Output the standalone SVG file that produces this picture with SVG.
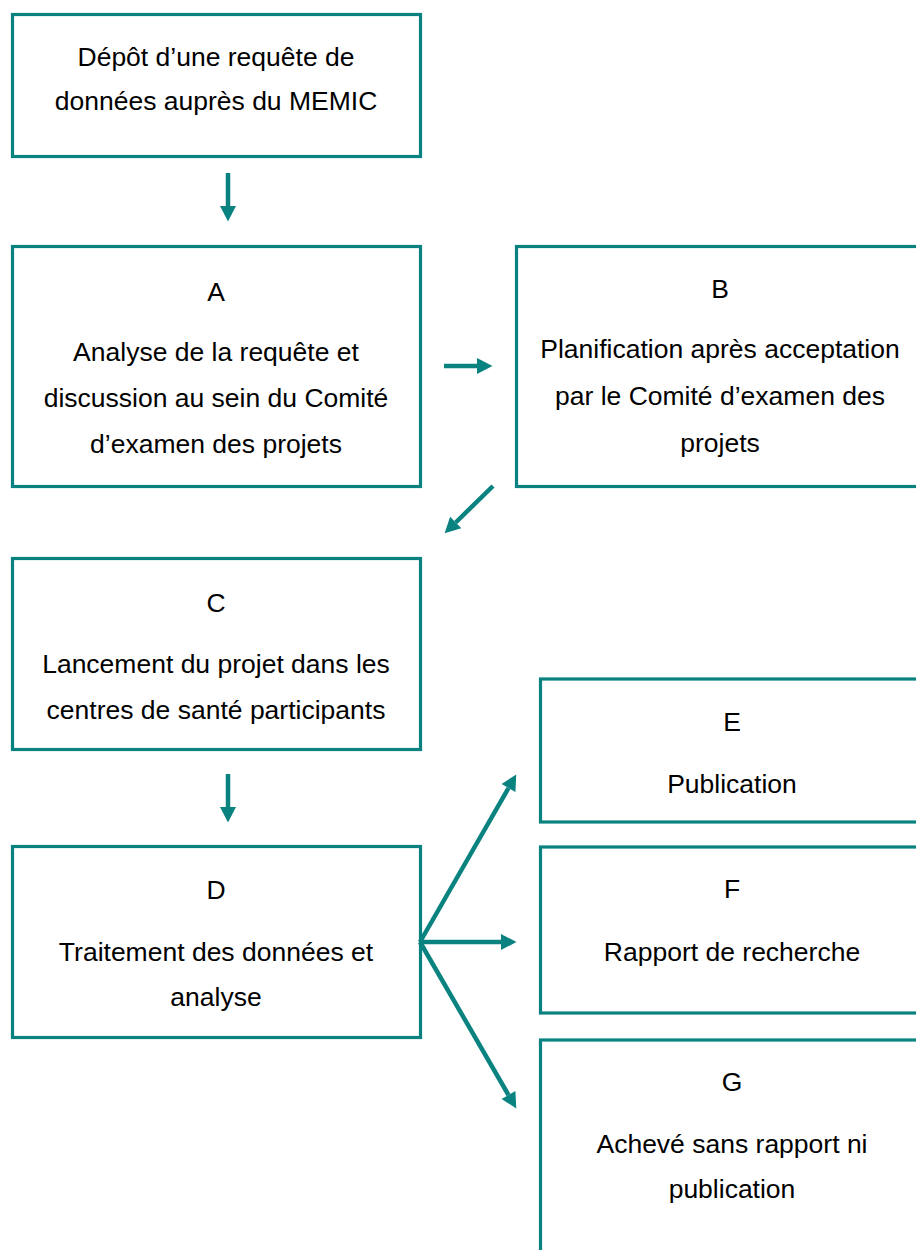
<svg xmlns="http://www.w3.org/2000/svg" width="916" height="1250" viewBox="0 0 916 1250">
<style>
.box{fill:#fff;stroke:#0a8380;stroke-width:3.2}
.t{font-family:"Liberation Sans",Arial,sans-serif;font-size:26.5px;fill:#000;text-anchor:middle}
.c{stroke:#0a8380;stroke-width:4.5;fill:none}
</style>
<defs>
<marker id="ah" markerUnits="userSpaceOnUse" markerWidth="20" markerHeight="20" viewBox="0 -10 16 20" refX="0" refY="0" orient="auto">
<path d="M0,-8 L15.5,0 L0,8 z" fill="#0a8380"/>
</marker>
</defs>
<rect width="916" height="1250" fill="#fff"/>
<g id="n0">
<rect class="box" x="12.5" y="14.5" width="408" height="142"/>
<text class="t" x="216" y="66">Dépôt d’une requête de</text>
<text class="t" x="216" y="110">données auprès du MEMIC</text>
</g>
<g id="nA">
<rect class="box" x="12.5" y="246.5" width="408" height="240"/>
<text class="t" x="216" y="301">A</text>
<text class="t" x="216" y="361">Analyse de la requête et</text>
<text class="t" x="216" y="407">discussion au sein du Comité</text>
<text class="t" x="216" y="453">d’examen des projets</text>
</g>
<g id="nB">
<rect class="box" x="516.5" y="246.5" width="408" height="240"/>
<text class="t" x="720" y="298">B</text>
<text class="t" x="720" y="358">Planification après acceptation</text>
<text class="t" x="720" y="405">par le Comité d’examen des</text>
<text class="t" x="720" y="452">projets</text>
</g>
<g id="nC">
<rect class="box" x="12.5" y="558.5" width="408" height="191"/>
<text class="t" x="216" y="612">C</text>
<text class="t" x="216" y="673">Lancement du projet dans les</text>
<text class="t" x="216" y="719">centres de santé participants</text>
</g>
<g id="nD">
<rect class="box" x="12.5" y="846.5" width="408" height="191"/>
<text class="t" x="216" y="899">D</text>
<text class="t" x="216" y="961">Traitement des données et</text>
<text class="t" x="216" y="1006">analyse</text>
</g>
<g id="nE">
<rect class="box" x="540.5" y="679" width="384" height="143"/>
<text class="t" x="732" y="731">E</text>
<text class="t" x="732" y="793">Publication</text>
</g>
<g id="nF">
<rect class="box" x="540.5" y="847" width="384" height="166"/>
<text class="t" x="732" y="898">F</text>
<text class="t" x="732" y="961">Rapport de recherche</text>
</g>
<g id="nG">
<rect class="box" x="540.5" y="1040" width="384" height="240"/>
<text class="t" x="732" y="1091">G</text>
<text class="t" x="732" y="1153">Achevé sans rapport ni</text>
<text class="t" x="732" y="1198">publication</text>
</g>
<g id="connectors">
<line class="c" x1="228" y1="173" x2="228" y2="206" marker-end="url(#ah)"/>
<line class="c" x1="444" y1="366" x2="477" y2="366" marker-end="url(#ah)"/>
<line class="c" x1="493" y1="486" x2="455.7" y2="522.5" marker-end="url(#ah)"/>
<line class="c" x1="228" y1="774" x2="228" y2="807" marker-end="url(#ah)"/>
<line class="c" x1="420" y1="942" x2="508.5" y2="788" marker-end="url(#ah)"/>
<line class="c" x1="420" y1="942" x2="501" y2="942" marker-end="url(#ah)"/>
<line class="c" x1="420" y1="942" x2="508.5" y2="1095" marker-end="url(#ah)"/>
</g>
</svg>
